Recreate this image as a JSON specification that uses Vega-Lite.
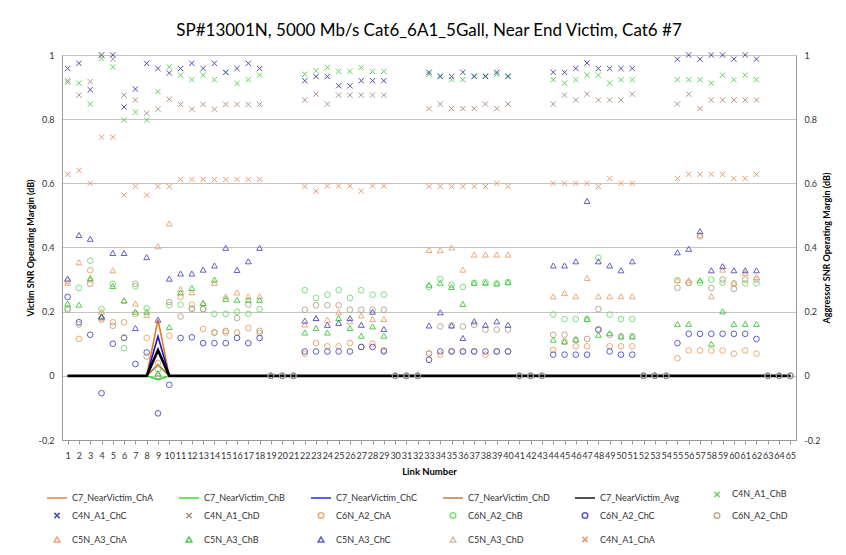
{
  "$schema": "https://vega.github.io/schema/vega-lite/v6.json",
  "width": 734,
  "height": 385,
  "autosize": "none",
  "padding": {"left": 62, "top": 55, "right": 50, "bottom": 115},
  "background": "white",
  "title": {"text": "SP#13001N, 5000 Mb/s Cat6_6A1_5Gall, Near End Victim, Cat6 #7", "fontSize": 17, "font": "Lato", "fontWeight": "normal", "anchor": "middle", "offset": 10, "color": "#000"},
  "config": {"view": {"stroke": null}, "font": "Lato"},
  "datasets": {
    "victim": [
      {"link":1,"C7_NearVictim_ChA":0,"C7_NearVictim_ChB":0,"C7_NearVictim_ChC":0,"C7_NearVictim_ChD":0,"C7_NearVictim_Avg":0},
      {"link":2,"C7_NearVictim_ChA":0,"C7_NearVictim_ChB":0,"C7_NearVictim_ChC":0,"C7_NearVictim_ChD":0,"C7_NearVictim_Avg":0},
      {"link":3,"C7_NearVictim_ChA":0,"C7_NearVictim_ChB":0,"C7_NearVictim_ChC":0,"C7_NearVictim_ChD":0,"C7_NearVictim_Avg":0},
      {"link":4,"C7_NearVictim_ChA":0,"C7_NearVictim_ChB":0,"C7_NearVictim_ChC":0,"C7_NearVictim_ChD":0,"C7_NearVictim_Avg":0},
      {"link":5,"C7_NearVictim_ChA":0,"C7_NearVictim_ChB":0,"C7_NearVictim_ChC":0,"C7_NearVictim_ChD":0,"C7_NearVictim_Avg":0},
      {"link":6,"C7_NearVictim_ChA":0,"C7_NearVictim_ChB":0,"C7_NearVictim_ChC":0,"C7_NearVictim_ChD":0,"C7_NearVictim_Avg":0},
      {"link":7,"C7_NearVictim_ChA":0,"C7_NearVictim_ChB":0,"C7_NearVictim_ChC":0,"C7_NearVictim_ChD":0,"C7_NearVictim_Avg":0},
      {"link":8,"C7_NearVictim_ChA":0,"C7_NearVictim_ChB":0,"C7_NearVictim_ChC":0,"C7_NearVictim_ChD":0,"C7_NearVictim_Avg":0},
      {"link":9,"C7_NearVictim_ChA":0.175,"C7_NearVictim_ChB":-0.012,"C7_NearVictim_ChC":0.123,"C7_NearVictim_ChD":0.035,"C7_NearVictim_Avg":0.08},
      {"link":10,"C7_NearVictim_ChA":0,"C7_NearVictim_ChB":0,"C7_NearVictim_ChC":0,"C7_NearVictim_ChD":0,"C7_NearVictim_Avg":0},
      {"link":11,"C7_NearVictim_ChA":0,"C7_NearVictim_ChB":0,"C7_NearVictim_ChC":0,"C7_NearVictim_ChD":0,"C7_NearVictim_Avg":0},
      {"link":12,"C7_NearVictim_ChA":0,"C7_NearVictim_ChB":0,"C7_NearVictim_ChC":0,"C7_NearVictim_ChD":0,"C7_NearVictim_Avg":0},
      {"link":13,"C7_NearVictim_ChA":0,"C7_NearVictim_ChB":0,"C7_NearVictim_ChC":0,"C7_NearVictim_ChD":0,"C7_NearVictim_Avg":0},
      {"link":14,"C7_NearVictim_ChA":0,"C7_NearVictim_ChB":0,"C7_NearVictim_ChC":0,"C7_NearVictim_ChD":0,"C7_NearVictim_Avg":0},
      {"link":15,"C7_NearVictim_ChA":0,"C7_NearVictim_ChB":0,"C7_NearVictim_ChC":0,"C7_NearVictim_ChD":0,"C7_NearVictim_Avg":0},
      {"link":16,"C7_NearVictim_ChA":0,"C7_NearVictim_ChB":0,"C7_NearVictim_ChC":0,"C7_NearVictim_ChD":0,"C7_NearVictim_Avg":0},
      {"link":17,"C7_NearVictim_ChA":0,"C7_NearVictim_ChB":0,"C7_NearVictim_ChC":0,"C7_NearVictim_ChD":0,"C7_NearVictim_Avg":0},
      {"link":18,"C7_NearVictim_ChA":0,"C7_NearVictim_ChB":0,"C7_NearVictim_ChC":0,"C7_NearVictim_ChD":0,"C7_NearVictim_Avg":0},
      {"link":19,"C7_NearVictim_ChA":0,"C7_NearVictim_ChB":0,"C7_NearVictim_ChC":0,"C7_NearVictim_ChD":0,"C7_NearVictim_Avg":0},
      {"link":20,"C7_NearVictim_ChA":0,"C7_NearVictim_ChB":0,"C7_NearVictim_ChC":0,"C7_NearVictim_ChD":0,"C7_NearVictim_Avg":0},
      {"link":21,"C7_NearVictim_ChA":0,"C7_NearVictim_ChB":0,"C7_NearVictim_ChC":0,"C7_NearVictim_ChD":0,"C7_NearVictim_Avg":0},
      {"link":22,"C7_NearVictim_ChA":0,"C7_NearVictim_ChB":0,"C7_NearVictim_ChC":0,"C7_NearVictim_ChD":0,"C7_NearVictim_Avg":0},
      {"link":23,"C7_NearVictim_ChA":0,"C7_NearVictim_ChB":0,"C7_NearVictim_ChC":0,"C7_NearVictim_ChD":0,"C7_NearVictim_Avg":0},
      {"link":24,"C7_NearVictim_ChA":0,"C7_NearVictim_ChB":0,"C7_NearVictim_ChC":0,"C7_NearVictim_ChD":0,"C7_NearVictim_Avg":0},
      {"link":25,"C7_NearVictim_ChA":0,"C7_NearVictim_ChB":0,"C7_NearVictim_ChC":0,"C7_NearVictim_ChD":0,"C7_NearVictim_Avg":0},
      {"link":26,"C7_NearVictim_ChA":0,"C7_NearVictim_ChB":0,"C7_NearVictim_ChC":0,"C7_NearVictim_ChD":0,"C7_NearVictim_Avg":0},
      {"link":27,"C7_NearVictim_ChA":0,"C7_NearVictim_ChB":0,"C7_NearVictim_ChC":0,"C7_NearVictim_ChD":0,"C7_NearVictim_Avg":0},
      {"link":28,"C7_NearVictim_ChA":0,"C7_NearVictim_ChB":0,"C7_NearVictim_ChC":0,"C7_NearVictim_ChD":0,"C7_NearVictim_Avg":0},
      {"link":29,"C7_NearVictim_ChA":0,"C7_NearVictim_ChB":0,"C7_NearVictim_ChC":0,"C7_NearVictim_ChD":0,"C7_NearVictim_Avg":0},
      {"link":30,"C7_NearVictim_ChA":0,"C7_NearVictim_ChB":0,"C7_NearVictim_ChC":0,"C7_NearVictim_ChD":0,"C7_NearVictim_Avg":0},
      {"link":31,"C7_NearVictim_ChA":0,"C7_NearVictim_ChB":0,"C7_NearVictim_ChC":0,"C7_NearVictim_ChD":0,"C7_NearVictim_Avg":0},
      {"link":32,"C7_NearVictim_ChA":0,"C7_NearVictim_ChB":0,"C7_NearVictim_ChC":0,"C7_NearVictim_ChD":0,"C7_NearVictim_Avg":0},
      {"link":33,"C7_NearVictim_ChA":0,"C7_NearVictim_ChB":0,"C7_NearVictim_ChC":0,"C7_NearVictim_ChD":0,"C7_NearVictim_Avg":0},
      {"link":34,"C7_NearVictim_ChA":0,"C7_NearVictim_ChB":0,"C7_NearVictim_ChC":0,"C7_NearVictim_ChD":0,"C7_NearVictim_Avg":0},
      {"link":35,"C7_NearVictim_ChA":0,"C7_NearVictim_ChB":0,"C7_NearVictim_ChC":0,"C7_NearVictim_ChD":0,"C7_NearVictim_Avg":0},
      {"link":36,"C7_NearVictim_ChA":0,"C7_NearVictim_ChB":0,"C7_NearVictim_ChC":0,"C7_NearVictim_ChD":0,"C7_NearVictim_Avg":0},
      {"link":37,"C7_NearVictim_ChA":0,"C7_NearVictim_ChB":0,"C7_NearVictim_ChC":0,"C7_NearVictim_ChD":0,"C7_NearVictim_Avg":0},
      {"link":38,"C7_NearVictim_ChA":0,"C7_NearVictim_ChB":0,"C7_NearVictim_ChC":0,"C7_NearVictim_ChD":0,"C7_NearVictim_Avg":0},
      {"link":39,"C7_NearVictim_ChA":0,"C7_NearVictim_ChB":0,"C7_NearVictim_ChC":0,"C7_NearVictim_ChD":0,"C7_NearVictim_Avg":0},
      {"link":40,"C7_NearVictim_ChA":0,"C7_NearVictim_ChB":0,"C7_NearVictim_ChC":0,"C7_NearVictim_ChD":0,"C7_NearVictim_Avg":0},
      {"link":41,"C7_NearVictim_ChA":0,"C7_NearVictim_ChB":0,"C7_NearVictim_ChC":0,"C7_NearVictim_ChD":0,"C7_NearVictim_Avg":0},
      {"link":42,"C7_NearVictim_ChA":0,"C7_NearVictim_ChB":0,"C7_NearVictim_ChC":0,"C7_NearVictim_ChD":0,"C7_NearVictim_Avg":0},
      {"link":43,"C7_NearVictim_ChA":0,"C7_NearVictim_ChB":0,"C7_NearVictim_ChC":0,"C7_NearVictim_ChD":0,"C7_NearVictim_Avg":0},
      {"link":44,"C7_NearVictim_ChA":0,"C7_NearVictim_ChB":0,"C7_NearVictim_ChC":0,"C7_NearVictim_ChD":0,"C7_NearVictim_Avg":0},
      {"link":45,"C7_NearVictim_ChA":0,"C7_NearVictim_ChB":0,"C7_NearVictim_ChC":0,"C7_NearVictim_ChD":0,"C7_NearVictim_Avg":0},
      {"link":46,"C7_NearVictim_ChA":0,"C7_NearVictim_ChB":0,"C7_NearVictim_ChC":0,"C7_NearVictim_ChD":0,"C7_NearVictim_Avg":0},
      {"link":47,"C7_NearVictim_ChA":0,"C7_NearVictim_ChB":0,"C7_NearVictim_ChC":0,"C7_NearVictim_ChD":0,"C7_NearVictim_Avg":0},
      {"link":48,"C7_NearVictim_ChA":0,"C7_NearVictim_ChB":0,"C7_NearVictim_ChC":0,"C7_NearVictim_ChD":0,"C7_NearVictim_Avg":0},
      {"link":49,"C7_NearVictim_ChA":0,"C7_NearVictim_ChB":0,"C7_NearVictim_ChC":0,"C7_NearVictim_ChD":0,"C7_NearVictim_Avg":0},
      {"link":50,"C7_NearVictim_ChA":0,"C7_NearVictim_ChB":0,"C7_NearVictim_ChC":0,"C7_NearVictim_ChD":0,"C7_NearVictim_Avg":0},
      {"link":51,"C7_NearVictim_ChA":0,"C7_NearVictim_ChB":0,"C7_NearVictim_ChC":0,"C7_NearVictim_ChD":0,"C7_NearVictim_Avg":0},
      {"link":52,"C7_NearVictim_ChA":0,"C7_NearVictim_ChB":0,"C7_NearVictim_ChC":0,"C7_NearVictim_ChD":0,"C7_NearVictim_Avg":0},
      {"link":53,"C7_NearVictim_ChA":0,"C7_NearVictim_ChB":0,"C7_NearVictim_ChC":0,"C7_NearVictim_ChD":0,"C7_NearVictim_Avg":0},
      {"link":54,"C7_NearVictim_ChA":0,"C7_NearVictim_ChB":0,"C7_NearVictim_ChC":0,"C7_NearVictim_ChD":0,"C7_NearVictim_Avg":0},
      {"link":55,"C7_NearVictim_ChA":0,"C7_NearVictim_ChB":0,"C7_NearVictim_ChC":0,"C7_NearVictim_ChD":0,"C7_NearVictim_Avg":0},
      {"link":56,"C7_NearVictim_ChA":0,"C7_NearVictim_ChB":0,"C7_NearVictim_ChC":0,"C7_NearVictim_ChD":0,"C7_NearVictim_Avg":0},
      {"link":57,"C7_NearVictim_ChA":0,"C7_NearVictim_ChB":0,"C7_NearVictim_ChC":0,"C7_NearVictim_ChD":0,"C7_NearVictim_Avg":0},
      {"link":58,"C7_NearVictim_ChA":0,"C7_NearVictim_ChB":0,"C7_NearVictim_ChC":0,"C7_NearVictim_ChD":0,"C7_NearVictim_Avg":0},
      {"link":59,"C7_NearVictim_ChA":0,"C7_NearVictim_ChB":0,"C7_NearVictim_ChC":0,"C7_NearVictim_ChD":0,"C7_NearVictim_Avg":0},
      {"link":60,"C7_NearVictim_ChA":0,"C7_NearVictim_ChB":0,"C7_NearVictim_ChC":0,"C7_NearVictim_ChD":0,"C7_NearVictim_Avg":0},
      {"link":61,"C7_NearVictim_ChA":0,"C7_NearVictim_ChB":0,"C7_NearVictim_ChC":0,"C7_NearVictim_ChD":0,"C7_NearVictim_Avg":0},
      {"link":62,"C7_NearVictim_ChA":0,"C7_NearVictim_ChB":0,"C7_NearVictim_ChC":0,"C7_NearVictim_ChD":0,"C7_NearVictim_Avg":0},
      {"link":63,"C7_NearVictim_ChA":0,"C7_NearVictim_ChB":0,"C7_NearVictim_ChC":0,"C7_NearVictim_ChD":0,"C7_NearVictim_Avg":0},
      {"link":64,"C7_NearVictim_ChA":0,"C7_NearVictim_ChB":0,"C7_NearVictim_ChC":0,"C7_NearVictim_ChD":0,"C7_NearVictim_Avg":0},
      {"link":65,"C7_NearVictim_ChA":0,"C7_NearVictim_ChB":0,"C7_NearVictim_ChC":0,"C7_NearVictim_ChD":0,"C7_NearVictim_Avg":0}
    ],
    "aggressor": [
      {"link":1,"C4N_A1_ChA":0.628,"C4N_A1_ChB":0.915,"C4N_A1_ChC":0.958,"C4N_A1_ChD":0.92,"C6N_A2_ChA":0.295,"C6N_A2_ChB":0.21,"C6N_A2_ChC":0.246,"C6N_A2_ChD":0.206,"C5N_A3_ChA":0.29,"C5N_A3_ChB":0.225,"C5N_A3_ChC":0.303},
      {"link":2,"C4N_A1_ChA":0.64,"C4N_A1_ChB":0.912,"C4N_A1_ChC":0.974,"C4N_A1_ChD":0.875,"C6N_A2_ChA":0.115,"C6N_A2_ChB":0.274,"C6N_A2_ChC":0.167,"C6N_A2_ChD":0.16,"C5N_A3_ChA":0.354,"C5N_A3_ChB":0.222,"C5N_A3_ChC":0.439},
      {"link":3,"C4N_A1_ChA":0.6,"C4N_A1_ChB":0.847,"C4N_A1_ChC":0.892,"C4N_A1_ChD":0.917,"C6N_A2_ChA":0.329,"C6N_A2_ChB":0.359,"C6N_A2_ChC":0.128,"C6N_A2_ChD":0.287,"C5N_A3_ChA":0.3,"C5N_A3_ChB":0.305,"C5N_A3_ChC":0.427},
      {"link":4,"C4N_A1_ChA":0.744,"C4N_A1_ChB":0.99,"C4N_A1_ChC":1.0,"C4N_A1_ChD":1.0,"C6N_A2_ChA":0.18,"C6N_A2_ChB":0.208,"C6N_A2_ChC":-0.054,"C6N_A2_ChD":0.175,"C5N_A3_ChA":0.2,"C5N_A3_ChB":0.185,"C5N_A3_ChC":0.185},
      {"link":5,"C4N_A1_ChA":0.744,"C4N_A1_ChB":0.963,"C4N_A1_ChC":1.0,"C4N_A1_ChD":0.987,"C6N_A2_ChA":0.167,"C6N_A2_ChB":0.287,"C6N_A2_ChC":0.1,"C6N_A2_ChD":0.156,"C5N_A3_ChA":0.329,"C5N_A3_ChB":0.28,"C5N_A3_ChC":0.383},
      {"link":6,"C4N_A1_ChA":0.563,"C4N_A1_ChB":0.798,"C4N_A1_ChC":0.838,"C4N_A1_ChD":0.875,"C6N_A2_ChA":0.167,"C6N_A2_ChB":0.086,"C6N_A2_ChC":0.118,"C6N_A2_ChD":0.12,"C5N_A3_ChA":0.235,"C5N_A3_ChB":0.235,"C5N_A3_ChC":0.383},
      {"link":7,"C4N_A1_ChA":0.59,"C4N_A1_ChB":0.822,"C4N_A1_ChC":0.894,"C4N_A1_ChD":0.86,"C6N_A2_ChA":0.193,"C6N_A2_ChB":0.279,"C6N_A2_ChC":0.037,"C6N_A2_ChD":0.287,"C5N_A3_ChA":0.225,"C5N_A3_ChB":0.2,"C5N_A3_ChC":0.149},
      {"link":8,"C4N_A1_ChA":0.563,"C4N_A1_ChB":0.797,"C4N_A1_ChC":0.974,"C4N_A1_ChD":0.819,"C6N_A2_ChA":0.118,"C6N_A2_ChB":0.211,"C6N_A2_ChC":0.073,"C6N_A2_ChD":0.06,"C5N_A3_ChA":0.19,"C5N_A3_ChB":0.2,"C5N_A3_ChC":0.37},
      {"link":9,"C4N_A1_ChA":0.59,"C4N_A1_ChB":0.886,"C4N_A1_ChC":0.958,"C4N_A1_ChD":0.831,"C6N_A2_ChA":0.04,"C6N_A2_ChB":0.02,"C6N_A2_ChC":-0.117,"C6N_A2_ChD":0.0,"C5N_A3_ChA":0.404,"C5N_A3_ChB":0.008,"C5N_A3_ChC":0.175},
      {"link":10,"C4N_A1_ChA":0.59,"C4N_A1_ChB":0.963,"C4N_A1_ChC":0.944,"C4N_A1_ChD":0.862,"C6N_A2_ChA":0.125,"C6N_A2_ChB":0.22,"C6N_A2_ChC":-0.028,"C6N_A2_ChD":0.23,"C5N_A3_ChA":0.475,"C5N_A3_ChB":0.152,"C5N_A3_ChC":0.303},
      {"link":11,"C4N_A1_ChA":0.612,"C4N_A1_ChB":0.937,"C4N_A1_ChC":0.958,"C4N_A1_ChD":0.846,"C6N_A2_ChA":0.246,"C6N_A2_ChB":0.222,"C6N_A2_ChC":0.118,"C6N_A2_ChD":0.185,"C5N_A3_ChA":0.27,"C5N_A3_ChB":0.26,"C5N_A3_ChC":0.319},
      {"link":12,"C4N_A1_ChA":0.612,"C4N_A1_ChB":0.923,"C4N_A1_ChC":0.974,"C4N_A1_ChD":0.831,"C6N_A2_ChA":0.222,"C6N_A2_ChB":0.209,"C6N_A2_ChC":0.12,"C6N_A2_ChD":0.21,"C5N_A3_ChA":0.26,"C5N_A3_ChB":0.274,"C5N_A3_ChC":0.319},
      {"link":13,"C4N_A1_ChA":0.612,"C4N_A1_ChB":0.937,"C4N_A1_ChC":0.958,"C4N_A1_ChD":0.846,"C6N_A2_ChA":0.146,"C6N_A2_ChB":0.208,"C6N_A2_ChC":0.102,"C6N_A2_ChD":0.208,"C5N_A3_ChA":0.227,"C5N_A3_ChB":0.227,"C5N_A3_ChC":0.331},
      {"link":14,"C4N_A1_ChA":0.612,"C4N_A1_ChB":0.923,"C4N_A1_ChC":0.974,"C4N_A1_ChD":0.831,"C6N_A2_ChA":0.135,"C6N_A2_ChB":0.193,"C6N_A2_ChC":0.102,"C6N_A2_ChD":0.135,"C5N_A3_ChA":0.29,"C5N_A3_ChB":0.3,"C5N_A3_ChC":0.344},
      {"link":15,"C4N_A1_ChA":0.612,"C4N_A1_ChB":0.946,"C4N_A1_ChC":0.946,"C4N_A1_ChD":0.846,"C6N_A2_ChA":0.135,"C6N_A2_ChB":0.193,"C6N_A2_ChC":0.102,"C6N_A2_ChD":0.14,"C5N_A3_ChA":0.248,"C5N_A3_ChB":0.24,"C5N_A3_ChC":0.399},
      {"link":16,"C4N_A1_ChA":0.612,"C4N_A1_ChB":0.911,"C4N_A1_ChC":0.958,"C4N_A1_ChD":0.846,"C6N_A2_ChA":0.135,"C6N_A2_ChB":0.2,"C6N_A2_ChC":0.118,"C6N_A2_ChD":0.18,"C5N_A3_ChA":0.26,"C5N_A3_ChB":0.237,"C5N_A3_ChC":0.33},
      {"link":17,"C4N_A1_ChA":0.612,"C4N_A1_ChB":0.923,"C4N_A1_ChC":0.974,"C4N_A1_ChD":0.846,"C6N_A2_ChA":0.149,"C6N_A2_ChB":0.193,"C6N_A2_ChC":0.102,"C6N_A2_ChD":0.222,"C5N_A3_ChA":0.248,"C5N_A3_ChB":0.237,"C5N_A3_ChC":0.357},
      {"link":18,"C4N_A1_ChA":0.612,"C4N_A1_ChB":0.937,"C4N_A1_ChC":0.958,"C4N_A1_ChD":0.846,"C6N_A2_ChA":0.133,"C6N_A2_ChB":0.208,"C6N_A2_ChC":0.118,"C6N_A2_ChD":0.14,"C5N_A3_ChA":0.248,"C5N_A3_ChB":0.237,"C5N_A3_ChC":0.399},
      {"link":19,"C6N_A2_ChA":0,"C6N_A2_ChB":0,"C6N_A2_ChC":0,"C6N_A2_ChD":0},
      {"link":20,"C6N_A2_ChA":0,"C6N_A2_ChB":0,"C6N_A2_ChC":0,"C6N_A2_ChD":0},
      {"link":21,"C6N_A2_ChA":0,"C6N_A2_ChB":0,"C6N_A2_ChC":0,"C6N_A2_ChD":0},
      {"link":22,"C4N_A1_ChA":0.59,"C4N_A1_ChB":0.94,"C4N_A1_ChC":0.92,"C4N_A1_ChD":0.86,"C6N_A2_ChA":0.069,"C6N_A2_ChB":0.267,"C6N_A2_ChC":0.076,"C6N_A2_ChD":0.206,"C5N_A3_ChA":0.16,"C5N_A3_ChB":0.135,"C5N_A3_ChC":0.172},
      {"link":23,"C4N_A1_ChA":0.576,"C4N_A1_ChB":0.951,"C4N_A1_ChC":0.933,"C4N_A1_ChD":0.878,"C6N_A2_ChA":0.102,"C6N_A2_ChB":0.243,"C6N_A2_ChC":0.076,"C6N_A2_ChD":0.22,"C5N_A3_ChA":0.18,"C5N_A3_ChB":0.149,"C5N_A3_ChC":0.18},
      {"link":24,"C4N_A1_ChA":0.592,"C4N_A1_ChB":0.961,"C4N_A1_ChC":0.933,"C4N_A1_ChD":0.847,"C6N_A2_ChA":0.092,"C6N_A2_ChB":0.253,"C6N_A2_ChC":0.076,"C6N_A2_ChD":0.22,"C5N_A3_ChA":0.175,"C5N_A3_ChB":0.135,"C5N_A3_ChC":0.159},
      {"link":25,"C4N_A1_ChA":0.592,"C4N_A1_ChB":0.949,"C4N_A1_ChC":0.904,"C4N_A1_ChD":0.875,"C6N_A2_ChA":0.092,"C6N_A2_ChB":0.267,"C6N_A2_ChC":0.076,"C6N_A2_ChD":0.22,"C5N_A3_ChA":0.198,"C5N_A3_ChB":0.18,"C5N_A3_ChC":0.165},
      {"link":26,"C4N_A1_ChA":0.592,"C4N_A1_ChB":0.949,"C4N_A1_ChC":0.904,"C4N_A1_ChD":0.875,"C6N_A2_ChA":0.102,"C6N_A2_ChB":0.243,"C6N_A2_ChC":0.076,"C6N_A2_ChD":0.206,"C5N_A3_ChA":0.17,"C5N_A3_ChB":0.149,"C5N_A3_ChC":0.18},
      {"link":27,"C4N_A1_ChA":0.576,"C4N_A1_ChB":0.961,"C4N_A1_ChC":0.92,"C4N_A1_ChD":0.875,"C6N_A2_ChA":0.09,"C6N_A2_ChB":0.267,"C6N_A2_ChC":0.09,"C6N_A2_ChD":0.206,"C5N_A3_ChA":0.188,"C5N_A3_ChB":0.125,"C5N_A3_ChC":0.159},
      {"link":28,"C4N_A1_ChA":0.592,"C4N_A1_ChB":0.949,"C4N_A1_ChC":0.92,"C4N_A1_ChD":0.875,"C6N_A2_ChA":0.1,"C6N_A2_ChB":0.253,"C6N_A2_ChC":0.09,"C6N_A2_ChD":0.206,"C5N_A3_ChA":0.177,"C5N_A3_ChB":0.154,"C5N_A3_ChC":0.2},
      {"link":29,"C4N_A1_ChA":0.592,"C4N_A1_ChB":0.949,"C4N_A1_ChC":0.92,"C4N_A1_ChD":0.875,"C6N_A2_ChA":0.08,"C6N_A2_ChB":0.253,"C6N_A2_ChC":0.076,"C6N_A2_ChD":0.206,"C5N_A3_ChA":0.177,"C5N_A3_ChB":0.125,"C5N_A3_ChC":0.146},
      {"link":30,"C6N_A2_ChA":0,"C6N_A2_ChB":0,"C6N_A2_ChC":0,"C6N_A2_ChD":0},
      {"link":31,"C6N_A2_ChA":0,"C6N_A2_ChB":0,"C6N_A2_ChC":0,"C6N_A2_ChD":0},
      {"link":32,"C6N_A2_ChA":0,"C6N_A2_ChB":0,"C6N_A2_ChC":0,"C6N_A2_ChD":0},
      {"link":33,"C4N_A1_ChA":0.59,"C4N_A1_ChB":0.94,"C4N_A1_ChC":0.946,"C4N_A1_ChD":0.833,"C6N_A2_ChA":0.069,"C6N_A2_ChB":0.277,"C6N_A2_ChC":0.05,"C6N_A2_ChD":0.07,"C5N_A3_ChA":0.392,"C5N_A3_ChB":0.284,"C5N_A3_ChC":0.157},
      {"link":34,"C4N_A1_ChA":0.59,"C4N_A1_ChB":0.935,"C4N_A1_ChC":0.933,"C4N_A1_ChD":0.847,"C6N_A2_ChA":0.066,"C6N_A2_ChB":0.302,"C6N_A2_ChC":0.076,"C6N_A2_ChD":0.154,"C5N_A3_ChA":0.392,"C5N_A3_ChB":0.29,"C5N_A3_ChC":0.198},
      {"link":35,"C4N_A1_ChA":0.59,"C4N_A1_ChB":0.923,"C4N_A1_ChC":0.933,"C4N_A1_ChD":0.833,"C6N_A2_ChA":0.076,"C6N_A2_ChB":0.284,"C6N_A2_ChC":0.076,"C6N_A2_ChD":0.157,"C5N_A3_ChA":0.4,"C5N_A3_ChB":0.277,"C5N_A3_ChC":0.157},
      {"link":36,"C4N_A1_ChA":0.59,"C4N_A1_ChB":0.923,"C4N_A1_ChC":0.946,"C4N_A1_ChD":0.833,"C6N_A2_ChA":0.076,"C6N_A2_ChB":0.277,"C6N_A2_ChC":0.076,"C6N_A2_ChD":0.154,"C5N_A3_ChA":0.331,"C5N_A3_ChB":0.224,"C5N_A3_ChC":0.118},
      {"link":37,"C4N_A1_ChA":0.59,"C4N_A1_ChB":0.935,"C4N_A1_ChC":0.933,"C4N_A1_ChD":0.833,"C6N_A2_ChA":0.076,"C6N_A2_ChB":0.29,"C6N_A2_ChC":0.076,"C6N_A2_ChD":0.159,"C5N_A3_ChA":0.378,"C5N_A3_ChB":0.29,"C5N_A3_ChC":0.17},
      {"link":38,"C4N_A1_ChA":0.59,"C4N_A1_ChB":0.935,"C4N_A1_ChC":0.933,"C4N_A1_ChD":0.847,"C6N_A2_ChA":0.066,"C6N_A2_ChB":0.292,"C6N_A2_ChC":0.076,"C6N_A2_ChD":0.144,"C5N_A3_ChA":0.378,"C5N_A3_ChB":0.29,"C5N_A3_ChC":0.159},
      {"link":39,"C4N_A1_ChA":0.6,"C4N_A1_ChB":0.94,"C4N_A1_ChC":0.946,"C4N_A1_ChD":0.833,"C6N_A2_ChA":0.076,"C6N_A2_ChB":0.288,"C6N_A2_ChC":0.076,"C6N_A2_ChD":0.144,"C5N_A3_ChA":0.378,"C5N_A3_ChB":0.288,"C5N_A3_ChC":0.17},
      {"link":40,"C4N_A1_ChA":0.59,"C4N_A1_ChB":0.935,"C4N_A1_ChC":0.933,"C4N_A1_ChD":0.847,"C6N_A2_ChA":0.076,"C6N_A2_ChB":0.292,"C6N_A2_ChC":0.076,"C6N_A2_ChD":0.144,"C5N_A3_ChA":0.378,"C5N_A3_ChB":0.292,"C5N_A3_ChC":0.159},
      {"link":41,"C6N_A2_ChA":0,"C6N_A2_ChB":0,"C6N_A2_ChC":0,"C6N_A2_ChD":0},
      {"link":42,"C6N_A2_ChA":0,"C6N_A2_ChB":0,"C6N_A2_ChC":0,"C6N_A2_ChD":0},
      {"link":43,"C6N_A2_ChA":0,"C6N_A2_ChB":0,"C6N_A2_ChC":0,"C6N_A2_ChD":0},
      {"link":44,"C4N_A1_ChA":0.6,"C4N_A1_ChB":0.923,"C4N_A1_ChC":0.946,"C4N_A1_ChD":0.847,"C6N_A2_ChA":0.081,"C6N_A2_ChB":0.191,"C6N_A2_ChC":0.066,"C6N_A2_ChD":0.128,"C5N_A3_ChA":0.248,"C5N_A3_ChB":0.113,"C5N_A3_ChC":0.344},
      {"link":45,"C4N_A1_ChA":0.6,"C4N_A1_ChB":0.912,"C4N_A1_ChC":0.946,"C4N_A1_ChD":0.875,"C6N_A2_ChA":0.107,"C6N_A2_ChB":0.177,"C6N_A2_ChC":0.066,"C6N_A2_ChD":0.128,"C5N_A3_ChA":0.258,"C5N_A3_ChB":0.107,"C5N_A3_ChC":0.344},
      {"link":46,"C4N_A1_ChA":0.6,"C4N_A1_ChB":0.923,"C4N_A1_ChC":0.958,"C4N_A1_ChD":0.86,"C6N_A2_ChA":0.092,"C6N_A2_ChB":0.177,"C6N_A2_ChC":0.066,"C6N_A2_ChD":0.113,"C5N_A3_ChA":0.248,"C5N_A3_ChB":0.113,"C5N_A3_ChC":0.357},
      {"link":47,"C4N_A1_ChA":0.6,"C4N_A1_ChB":0.937,"C4N_A1_ChC":0.975,"C4N_A1_ChD":0.878,"C6N_A2_ChA":0.092,"C6N_A2_ChB":0.177,"C6N_A2_ChC":0.066,"C6N_A2_ChD":0.115,"C5N_A3_ChA":0.305,"C5N_A3_ChB":0.177,"C5N_A3_ChC":0.545},
      {"link":48,"C4N_A1_ChA":0.59,"C4N_A1_ChB":0.937,"C4N_A1_ChC":0.958,"C4N_A1_ChD":0.86,"C6N_A2_ChA":0.144,"C6N_A2_ChB":0.368,"C6N_A2_ChC":0.144,"C6N_A2_ChD":0.208,"C5N_A3_ChA":0.248,"C5N_A3_ChB":0.128,"C5N_A3_ChC":0.357},
      {"link":49,"C4N_A1_ChA":0.615,"C4N_A1_ChB":0.912,"C4N_A1_ChC":0.958,"C4N_A1_ChD":0.86,"C6N_A2_ChA":0.092,"C6N_A2_ChB":0.191,"C6N_A2_ChC":0.076,"C6N_A2_ChD":0.128,"C5N_A3_ChA":0.248,"C5N_A3_ChB":0.133,"C5N_A3_ChC":0.344},
      {"link":50,"C4N_A1_ChA":0.6,"C4N_A1_ChB":0.923,"C4N_A1_ChC":0.958,"C4N_A1_ChD":0.86,"C6N_A2_ChA":0.092,"C6N_A2_ChB":0.177,"C6N_A2_ChC":0.066,"C6N_A2_ChD":0.123,"C5N_A3_ChA":0.248,"C5N_A3_ChB":0.123,"C5N_A3_ChC":0.329},
      {"link":51,"C4N_A1_ChA":0.6,"C4N_A1_ChB":0.923,"C4N_A1_ChC":0.958,"C4N_A1_ChD":0.878,"C6N_A2_ChA":0.092,"C6N_A2_ChB":0.177,"C6N_A2_ChC":0.066,"C6N_A2_ChD":0.123,"C5N_A3_ChA":0.248,"C5N_A3_ChB":0.123,"C5N_A3_ChC":0.357},
      {"link":52,"C6N_A2_ChA":0,"C6N_A2_ChB":0,"C6N_A2_ChC":0,"C6N_A2_ChD":0},
      {"link":53,"C6N_A2_ChA":0,"C6N_A2_ChB":0,"C6N_A2_ChC":0,"C6N_A2_ChD":0},
      {"link":54,"C6N_A2_ChA":0,"C6N_A2_ChB":0,"C6N_A2_ChC":0,"C6N_A2_ChD":0},
      {"link":55,"C4N_A1_ChA":0.615,"C4N_A1_ChB":0.923,"C4N_A1_ChC":0.987,"C4N_A1_ChD":0.847,"C6N_A2_ChA":0.055,"C6N_A2_ChB":0.298,"C6N_A2_ChC":0.102,"C6N_A2_ChD":0.274,"C5N_A3_ChA":0.298,"C5N_A3_ChB":0.162,"C5N_A3_ChC":0.385},
      {"link":56,"C4N_A1_ChA":0.628,"C4N_A1_ChB":0.923,"C4N_A1_ChC":1.0,"C4N_A1_ChD":0.878,"C6N_A2_ChA":0.079,"C6N_A2_ChB":0.29,"C6N_A2_ChC":0.131,"C6N_A2_ChD":0.29,"C5N_A3_ChA":0.298,"C5N_A3_ChB":0.162,"C5N_A3_ChC":0.396},
      {"link":57,"C4N_A1_ChA":0.628,"C4N_A1_ChB":0.923,"C4N_A1_ChC":0.987,"C4N_A1_ChD":0.833,"C6N_A2_ChA":0.079,"C6N_A2_ChB":0.29,"C6N_A2_ChC":0.131,"C6N_A2_ChD":0.435,"C5N_A3_ChA":0.44,"C5N_A3_ChB":0.298,"C5N_A3_ChC":0.451},
      {"link":58,"C4N_A1_ChA":0.628,"C4N_A1_ChB":0.912,"C4N_A1_ChC":1.0,"C4N_A1_ChD":0.86,"C6N_A2_ChA":0.079,"C6N_A2_ChB":0.3,"C6N_A2_ChC":0.131,"C6N_A2_ChD":0.274,"C5N_A3_ChA":0.248,"C5N_A3_ChB":0.1,"C5N_A3_ChC":0.329},
      {"link":59,"C4N_A1_ChA":0.628,"C4N_A1_ChB":0.937,"C4N_A1_ChC":1.0,"C4N_A1_ChD":0.86,"C6N_A2_ChA":0.079,"C6N_A2_ChB":0.29,"C6N_A2_ChC":0.131,"C6N_A2_ChD":0.3,"C5N_A3_ChA":0.331,"C5N_A3_ChB":0.201,"C5N_A3_ChC":0.342},
      {"link":60,"C4N_A1_ChA":0.615,"C4N_A1_ChB":0.923,"C4N_A1_ChC":0.987,"C4N_A1_ChD":0.86,"C6N_A2_ChA":0.069,"C6N_A2_ChB":0.288,"C6N_A2_ChC":0.131,"C6N_A2_ChD":0.271,"C5N_A3_ChA":0.29,"C5N_A3_ChB":0.162,"C5N_A3_ChC":0.329},
      {"link":61,"C4N_A1_ChA":0.615,"C4N_A1_ChB":0.937,"C4N_A1_ChC":1.0,"C4N_A1_ChD":0.86,"C6N_A2_ChA":0.079,"C6N_A2_ChB":0.288,"C6N_A2_ChC":0.131,"C6N_A2_ChD":0.3,"C5N_A3_ChA":0.321,"C5N_A3_ChB":0.162,"C5N_A3_ChC":0.329},
      {"link":62,"C4N_A1_ChA":0.628,"C4N_A1_ChB":0.923,"C4N_A1_ChC":0.987,"C4N_A1_ChD":0.86,"C6N_A2_ChA":0.069,"C6N_A2_ChB":0.288,"C6N_A2_ChC":0.115,"C6N_A2_ChD":0.3,"C5N_A3_ChA":0.308,"C5N_A3_ChB":0.162,"C5N_A3_ChC":0.329},
      {"link":63,"C6N_A2_ChA":0,"C6N_A2_ChB":0,"C6N_A2_ChC":0,"C6N_A2_ChD":0},
      {"link":64,"C6N_A2_ChA":0,"C6N_A2_ChB":0,"C6N_A2_ChC":0,"C6N_A2_ChD":0},
      {"link":65,"C6N_A2_ChA":0,"C6N_A2_ChB":0,"C6N_A2_ChC":0,"C6N_A2_ChD":0}
    ]
  },
  "layer": [
    {
      "layer": [
        {
          "data": {"name": "victim"},
          "transform": [{"fold": ["C7_NearVictim_ChA", "C7_NearVictim_ChB", "C7_NearVictim_ChC", "C7_NearVictim_ChD"], "as": ["series", "margin"]}],
          "mark": {"type": "line", "strokeWidth": 1.6},
          "encoding": {
            "x": {"field": "link", "type": "quantitative", "scale": {"domain": [0.5, 65.5], "nice": false, "zero": false},
              "axis": {"title": "Link Number", "titleFontSize": 9.5, "titleFontWeight": "bold", "titlePadding": 6, "values": [1,2,3,4,5,6,7,8,9,10,11,12,13,14,15,16,17,18,19,20,21,22,23,24,25,26,27,28,29,30,31,32,33,34,35,36,37,38,39,40,41,42,43,44,45,46,47,48,49,50,51,52,53,54,55,56,57,58,59,60,61,62,63,64,65], "labelOverlap": false, "labelFlush": false, "labelBound": false, "labelFontSize": 9, "labelColor": "#333", "labelPadding": 7, "tickSize": 4, "tickColor": "#999", "domainColor": "#999", "grid": false}},
            "y": {"field": "margin", "type": "quantitative", "scale": {"domain": [-0.2, 1], "nice": false, "zero": false},
              "axis": {"orient": "left", "title": "Victim SNR Operating Margin (dB)", "titleFontSize": 9, "titleFontWeight": "bold", "titlePadding": 3, "values": [-0.2, 0, 0.2, 0.4, 0.6, 0.8, 1], "format": ".1~f", "labelExpr": "replace(datum.label, '−', '-')", "labelFontSize": 9, "labelColor": "#333", "labelPadding": 8, "ticks": false, "domainColor": "#999", "grid": true, "gridColor": "#c4c4c4"}},
            "color": {"field": "series", "type": "nominal", "scale": {"domain": ["C7_NearVictim_ChA", "C7_NearVictim_ChB", "C7_NearVictim_ChC", "C7_NearVictim_ChD"], "range": ["#E87722", "#22DD22", "#1515CC", "#B8703A"]}, "legend": null}
          }
        },
        {
          "data": {"name": "victim"},
          "transform": [{"fold": ["C7_NearVictim_Avg"], "as": ["series", "margin"]}],
          "mark": {"type": "line", "strokeWidth": 2.6, "color": "#000"},
          "encoding": {
            "x": {"field": "link", "type": "quantitative", "scale": {"domain": [0.5, 65.5], "nice": false, "zero": false},
              "axis": {"title": "Link Number", "titleFontSize": 9.5, "titleFontWeight": "bold", "titlePadding": 6, "values": [1,2,3,4,5,6,7,8,9,10,11,12,13,14,15,16,17,18,19,20,21,22,23,24,25,26,27,28,29,30,31,32,33,34,35,36,37,38,39,40,41,42,43,44,45,46,47,48,49,50,51,52,53,54,55,56,57,58,59,60,61,62,63,64,65], "labelOverlap": false, "labelFlush": false, "labelBound": false, "labelFontSize": 9, "labelColor": "#333", "labelPadding": 7, "tickSize": 4, "tickColor": "#999", "domainColor": "#999", "grid": false}},
            "y": {"field": "margin", "type": "quantitative"}
          }
        }
      ]
    },
    {
      "data": {"name": "aggressor"},
      "transform": [
        {"fold": ["C4N_A1_ChA", "C4N_A1_ChB", "C4N_A1_ChC", "C4N_A1_ChD", "C6N_A2_ChA", "C6N_A2_ChB", "C6N_A2_ChC", "C6N_A2_ChD", "C5N_A3_ChA", "C5N_A3_ChB", "C5N_A3_ChC"], "as": ["series", "margin"]},
        {"filter": "datum.margin != null"}
      ],
      "mark": {"type": "point", "filled": false, "strokeWidth": 1, "opacity": 0.9},
      "encoding": {
        "x": {"field": "link", "type": "quantitative", "scale": {"domain": [0.5, 65.5], "nice": false, "zero": false},
          "axis": {"title": "Link Number", "titleFontSize": 9.5, "titleFontWeight": "bold", "titlePadding": 6, "values": [1,2,3,4,5,6,7,8,9,10,11,12,13,14,15,16,17,18,19,20,21,22,23,24,25,26,27,28,29,30,31,32,33,34,35,36,37,38,39,40,41,42,43,44,45,46,47,48,49,50,51,52,53,54,55,56,57,58,59,60,61,62,63,64,65], "labelOverlap": false, "labelFlush": false, "labelBound": false, "labelFontSize": 9, "labelColor": "#333", "labelPadding": 7, "tickSize": 4, "tickColor": "#999", "domainColor": "#999", "grid": false}},
        "y": {"field": "margin", "type": "quantitative", "scale": {"domain": [-0.2, 1], "nice": false, "zero": false},
          "axis": {"orient": "right", "title": "Aggressor SNR Operating Margin (dB)", "titleAngle": 270, "titleFontSize": 9, "titleFontWeight": "bold", "titlePadding": 12, "values": [-0.2, 0, 0.2, 0.4, 0.6, 0.8, 1], "format": ".1~f", "labelExpr": "replace(datum.label, '−', '-')", "labelFontSize": 9, "labelColor": "#333", "labelPadding": 8, "ticks": false, "domainColor": "#999", "grid": false}},
        "color": {"field": "series", "type": "nominal",
          "scale": {"domain": ["C7_NearVictim_ChA", "C7_NearVictim_ChB", "C7_NearVictim_ChC", "C7_NearVictim_ChD", "C7_NearVictim_Avg", "C4N_A1_ChB", "C4N_A1_ChC", "C4N_A1_ChD", "C6N_A2_ChA", "C6N_A2_ChB", "C6N_A2_ChC", "C6N_A2_ChD", "C5N_A3_ChA", "C5N_A3_ChB", "C5N_A3_ChC", "C5N_A3_ChD", "C4N_A1_ChA"],
            "range": ["#E87722", "#22DD22", "#1515CC", "#B8703A", "#000000", "#4fd24f", "#3a3aa8", "#a88a78", "#f0a060", "#70dd70", "#4a4acc", "#b8a088", "#eaa070", "#3cc83c", "#5050c0", "#d0b8a0", "#e89060"]},
          "legend": {"title": null, "orient": "none", "legendX": -16, "legendY": 432, "direction": "horizontal", "columns": 6, "gridAlign": "all", "columnPadding": 22, "rowPadding": 6, "labelFontSize": 9, "labelColor": "#333", "labelLimit": 120, "symbolStrokeWidth": 1.5, "labelOffset": 4}},
        "shape": {"field": "series", "type": "nominal",
          "scale": {"domain": ["C7_NearVictim_ChA", "C7_NearVictim_ChB", "C7_NearVictim_ChC", "C7_NearVictim_ChD", "C7_NearVictim_Avg", "C4N_A1_ChB", "C4N_A1_ChC", "C4N_A1_ChD", "C6N_A2_ChA", "C6N_A2_ChB", "C6N_A2_ChC", "C6N_A2_ChD", "C5N_A3_ChA", "C5N_A3_ChB", "C5N_A3_ChC", "C5N_A3_ChD", "C4N_A1_ChA"],
            "range": ["stroke", "stroke", "stroke", "stroke", "stroke", "M-1,-1L1,1M1,-1L-1,1", "M-1,-1L1,1M1,-1L-1,1", "M-1,-1L1,1M1,-1L-1,1", "circle", "circle", "circle", "circle", "triangle-up", "triangle-up", "triangle-up", "triangle-up", "M-1,-1L1,1M1,-1L-1,1"]},
          "legend": {"title": null, "orient": "none", "legendX": -16, "legendY": 432, "direction": "horizontal", "columns": 6, "gridAlign": "all", "columnPadding": 22, "rowPadding": 6, "labelFontSize": 9, "labelColor": "#333", "labelLimit": 120, "symbolStrokeWidth": 1.5, "labelOffset": 4}},
        "size": {"field": "series", "type": "nominal",
          "scale": {"type": "ordinal", "domain": ["C7_NearVictim_ChA", "C7_NearVictim_ChB", "C7_NearVictim_ChC", "C7_NearVictim_ChD", "C7_NearVictim_Avg", "C4N_A1_ChB", "C4N_A1_ChC", "C4N_A1_ChD", "C6N_A2_ChA", "C6N_A2_ChB", "C6N_A2_ChC", "C6N_A2_ChD", "C5N_A3_ChA", "C5N_A3_ChB", "C5N_A3_ChC", "C5N_A3_ChD", "C4N_A1_ChA"],
            "range": [400, 400, 400, 400, 400, 28, 28, 28, 32, 32, 32, 32, 34, 34, 34, 34, 28]},
          "legend": {"title": null, "orient": "none", "legendX": -16, "legendY": 432, "direction": "horizontal", "columns": 6, "gridAlign": "all", "columnPadding": 22, "rowPadding": 6, "labelFontSize": 9, "labelColor": "#333", "labelLimit": 120, "symbolStrokeWidth": 1.5, "labelOffset": 4}}
      }
    }
  ],
  "resolve": {"scale": {"y": "independent", "color": "independent", "shape": "independent", "size": "independent"}}
}
